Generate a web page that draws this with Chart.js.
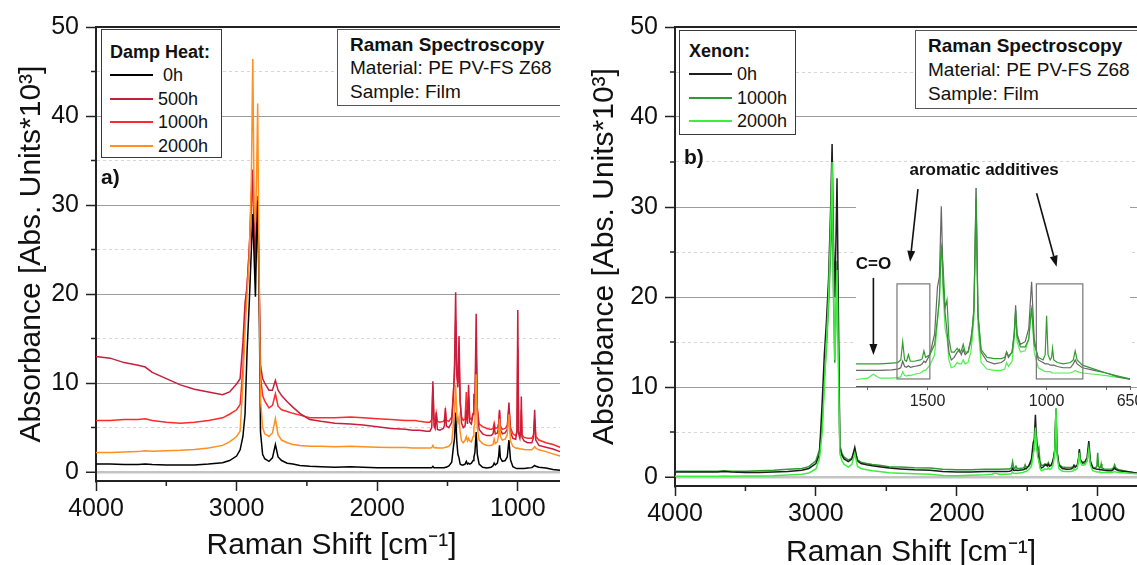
<!DOCTYPE html>
<html>
<head>
<meta charset="utf-8">
<script src="https://cdn.jsdelivr.net/npm/chart.js@4.4.0/dist/chart.umd.min.js"></script>
<style>
  body { margin: 0; width: 1137px; height: 565px; overflow: hidden; background: #fff; position: relative;
         font-family: "Liberation Sans", Arial, sans-serif; color: #111; }
  .panel { position: absolute; top: 0; height: 565px; overflow: hidden; }
  #pa { left: 0; width: 560px; }
  #pb { left: 570px; width: 567px; }
  canvas { position: absolute; left: 0; top: 0; }
  .box { position: absolute; background: #fff; box-sizing: border-box; }
  .t { position: absolute; white-space: nowrap; line-height: 22px; transform: translateY(-50%); }
  .sample { position: absolute; width: 43px; height: 2px; margin-top: -1px; }
</style>
</head>
<body>
<div class="panel" id="pa"><canvas id="ca" width="600" height="565"></canvas></div>
<div class="panel" id="pb"><canvas id="cb" width="600" height="565"></canvas>
  <canvas id="ci" width="330" height="275" style="left:260px;top:150px"></canvas></div>
<script>
// Raman shift grid shared by every spectrum (cm^-1)
const shift = [
  4000, 3900, 3800, 3700, 3650, 3600, 3500, 3400, 3300, 3200,
  3100, 3050, 3000, 2975, 2955, 2940, 2925, 2910, 2895, 2885,
  2875, 2866, 2858, 2850, 2840, 2830, 2815, 2800, 2770, 2745,
  2724, 2705, 2680, 2640, 2600, 2550, 2480, 2400, 2300, 2190,
  2100, 2000, 1900, 1800, 1750, 1728, 1700, 1650, 1625, 1612,
  1604, 1596, 1588, 1580, 1572, 1555, 1530, 1522, 1515, 1508,
  1490, 1470, 1458, 1450, 1442, 1434, 1426, 1418, 1410, 1400,
  1388, 1375, 1366, 1358, 1350, 1342, 1330, 1318, 1312, 1305,
  1296, 1288, 1275, 1250, 1220, 1190, 1176, 1168, 1160, 1145,
  1136, 1130, 1124, 1110, 1090, 1075, 1063, 1052, 1035, 1015,
  1006, 1000, 994, 985, 979, 975, 970, 955, 930, 900,
  888, 880, 872, 850, 800, 750, 700, 650
];

// a) damp heat
const dh0h = [
  0.9, 0.9, 0.85, 0.85, 0.9, 0.85, 0.8, 0.8, 0.8, 0.9,
  1.05, 1.3, 1.8, 2.5, 4.0, 6.5, 13.8, 19, 25, 29,
  24, 19.7, 26, 30.5, 20, 4.5, 2.0, 1.5, 1.2, 1.6,
  3.1, 1.7, 1.3, 1.0, 0.9, 0.75, 0.65, 0.6, 0.55, 0.6,
  0.55, 0.5, 0.5, 0.5, 0.5, 0.5, 0.5, 0.5, 0.5, 0.5,
  0.65, 0.5, 0.5, 0.5, 0.5, 0.5, 0.5, 0.5, 0.55, 0.55,
  0.7, 1.1, 2.8, 3.8, 6.7, 3.5, 2.0, 1.6, 0.9, 0.8,
  0.8, 0.9, 1.2, 0.9, 1.0, 0.9, 1.0, 1.3, 1.7, 2.2,
  4.5, 2.0, 0.9, 0.55, 0.45, 0.55, 0.7, 1.0, 0.8, 1.0,
  1.8, 3.0, 1.6, 1.2, 1.3, 1.7, 3.6, 1.4, 0.6, 0.45,
  0.4, 0.4, 0.4, 0.4, 0.4, 0.4, 0.4, 0.4, 0.45, 0.5,
  0.65, 0.75, 0.65, 0.55, 0.45, 0.3, 0.2, 0.1
];
const dh500h = [
  13.0, 12.8, 12.3, 12.0, 11.8, 11.2, 10.5, 9.8, 9.3, 9.0,
  8.7, 9.0, 9.9, 10.5, 14.6, 19, 21, 25, 31, 34,
  27, 24, 29, 31, 22, 12, 10.5, 10.0, 9.2, 9.2,
  10.3, 9.2, 8.6, 7.9, 7.3, 6.6, 5.9, 5.7, 5.5, 5.4,
  5.3, 5.1, 4.9, 4.8, 4.7, 4.7, 4.7, 4.6, 4.6, 5.0,
  10.2, 5.2, 4.9, 6.7, 4.8, 4.7, 4.9, 5.2, 7.2, 5.2,
  5.0, 5.6, 8.5, 12, 20.2, 11, 9.5, 15.3, 8, 5.5,
  5.0, 5.2, 7.0, 5.4, 9.8, 5.6, 5.4, 6.5, 8.8, 7.5,
  17.8, 7.0, 4.8, 4.3, 4.1, 4.1, 4.3, 5.1, 4.3, 4.4,
  5.0, 7.0, 4.8, 4.3, 4.4, 4.8, 7.8, 4.5, 3.8, 3.7,
  4.5, 18.2, 4.3, 3.8, 4.5, 8.5, 3.9, 3.5, 3.3, 3.3,
  3.9, 7.0, 3.6, 3.0, 2.8, 2.6, 2.3, 2.1
];
const dh1000h = [
  5.8, 5.8, 5.9, 5.9, 6.0, 5.8, 5.6, 5.5, 5.6, 5.8,
  6.1, 6.5, 7.0, 7.6, 11.6, 17.6, 21, 25, 30, 33,
  26, 23, 28, 31, 21, 10.8, 8.6, 8.0, 7.2, 7.5,
  8.8, 7.4, 7.0, 6.8, 6.6, 6.4, 6.1, 6.1, 6.1, 6.2,
  6.1, 6.0, 5.9, 5.8, 5.8, 5.8, 5.7, 5.6, 5.6, 5.9,
  9.6, 6.0, 5.7, 6.6, 5.7, 5.6, 5.7, 5.9, 6.8, 5.8,
  5.7, 6.2, 9, 11, 17, 11, 10, 13, 8, 6.2,
  5.8, 6.0, 9.0, 6.0, 8.5, 6.1, 5.9, 6.6, 8.2, 7.5,
  14, 7.2, 5.4, 5.1, 4.9, 4.8, 4.9, 5.5, 4.9, 5.0,
  5.5, 6.8, 5.2, 4.8, 4.9, 5.2, 7.2, 5.0, 4.3, 4.1,
  4.6, 14, 4.6, 4.2, 4.6, 7.0, 4.2, 3.9, 3.8, 3.8,
  4.2, 6.0, 4.0, 3.6, 3.3, 3.1, 2.8, 2.6
];
const dh2000h = [
  2.2, 2.2, 2.25, 2.3, 2.4, 2.35, 2.4, 2.45, 2.55, 2.7,
  3.0, 3.4, 4.0, 4.6, 10.1, 16, 20, 24, 33, 46.4,
  30, 28, 33, 41.4, 22, 8.2, 5.0, 4.3, 4.0, 4.4,
  6.0, 4.2, 3.6, 3.3, 3.1, 3.0, 2.9, 2.9, 2.85, 2.9,
  2.85, 2.8, 2.75, 2.75, 2.7, 2.7, 2.7, 2.7, 2.7, 2.75,
  3.0, 2.75, 2.7, 2.75, 2.7, 2.7, 2.7, 2.75, 2.8, 2.8,
  2.9, 3.3, 5.5, 6.8, 9.8, 6.5, 5.5, 6.2, 4.5, 3.5,
  3.3, 3.6, 4.0, 3.5, 3.8, 3.5, 3.4, 4.0, 5.0, 5.5,
  11.0, 5.0, 3.6, 3.2, 3.0, 3.0, 3.1, 3.7, 3.2, 3.4,
  4.2, 6.0, 4.0, 3.6, 3.7, 4.2, 6.5, 3.5, 2.9, 2.7,
  2.65, 2.7, 2.65, 2.6, 2.6, 2.6, 2.6, 2.55, 2.5, 2.5,
  2.7, 2.85, 2.7, 2.5, 2.3, 2.05, 1.8, 1.6
];

// b) xenon
const xe0h = [
  0.55, 0.55, 0.55, 0.55, 0.6, 0.55, 0.5, 0.5, 0.55, 0.6,
  0.75, 0.95, 1.5, 2.5, 8.4, 13.6, 17.3, 22, 30, 37.0,
  26, 20, 26, 33.2, 18, 3.3, 2.4, 2.0, 1.7, 2.0,
  3.3, 1.8, 1.5, 1.35, 1.25, 1.15, 1.0, 0.9, 0.8, 0.75,
  0.6, 0.55, 0.55, 0.6, 0.6, 0.6, 0.6, 0.62, 0.65, 0.7,
  0.95, 0.75, 0.72, 0.78, 0.72, 0.75, 0.8, 0.85, 0.95, 0.9,
  1.2, 2.0, 3.8, 4.2, 6.9, 3.9, 2.8, 2.1, 1.3, 1.0,
  1.1, 1.3, 1.4, 1.2, 1.4, 1.2, 1.3, 1.8, 2.2, 3.0,
  7.6, 2.8, 1.3, 0.95, 0.85, 0.9, 1.0, 1.3, 1.1, 1.3,
  2.0, 3.1, 2.0, 1.6, 1.7, 2.2, 4.0, 1.8, 1.0, 0.9,
  0.85, 0.85, 0.85, 0.8, 0.8, 0.8, 0.8, 0.75, 0.7, 0.7,
  0.85, 1.0, 0.85, 0.7, 0.6, 0.5, 0.35, 0.25
];
const xe1000h = [
  0.65, 0.65, 0.65, 0.65, 0.7, 0.65, 0.65, 0.7, 0.75, 0.85,
  0.95, 1.15, 1.8, 3.0, 6.0, 11, 14.4, 19, 25, 30,
  20, 12.7, 18, 24, 14, 3.5, 2.6, 2.2, 1.9, 2.1,
  3.0, 1.9, 1.65, 1.5, 1.4, 1.3, 1.15, 1.1, 1.03, 1.0,
  0.85, 0.8, 0.8, 0.85, 0.85, 0.85, 0.85, 0.88, 0.9, 1.0,
  1.7, 1.0, 0.95, 1.2, 0.95, 0.95, 1.0, 1.05, 1.35, 1.1,
  1.2, 1.6, 2.6, 3.4, 5.4, 4.5, 3.0, 3.3, 1.8, 1.3,
  1.3, 1.45, 1.3, 1.35, 1.6, 1.3, 1.3, 1.7, 2.2, 2.9,
  7.2, 2.7, 1.4, 1.1, 1.05, 1.05, 1.1, 1.3, 1.15, 1.3,
  2.0, 2.9, 1.9, 1.5, 1.5, 1.8, 3.0, 1.6, 1.1, 1.0,
  1.2, 2.7, 1.2, 1.0, 1.1, 1.45, 1.0, 0.9, 0.85, 0.9,
  1.0, 1.35, 1.0, 0.8, 0.65, 0.5, 0.38, 0.27
];
const xe2000h = [
  0.08, 0.08, 0.08, 0.08, 0.12, 0.08, 0.1, 0.12, 0.15, 0.22,
  0.3, 0.45, 0.9, 2.0, 5.0, 10, 15, 20, 28, 35,
  22, 13, 17, 23, 12, 2.6, 1.8, 1.4, 1.1, 1.4,
  2.6, 1.2, 0.95, 0.8, 0.7, 0.6, 0.48, 0.42, 0.37, 0.3,
  0.18, 0.15, 0.2, 0.25, 0.3, 0.45, 0.3, 0.3, 0.32, 0.35,
  0.55, 0.4, 0.38, 0.42, 0.4, 0.45, 0.5, 0.55, 0.6, 0.6,
  0.8, 1.2, 2.5, 3.2, 5.5, 3.5, 2.2, 1.85, 1.0, 0.7,
  0.75, 0.9, 0.85, 0.85, 1.0, 0.85, 0.9, 1.3, 1.8, 2.6,
  7.6, 2.3, 0.9, 0.65, 0.6, 0.6, 0.65, 0.9, 0.75, 0.95,
  1.8, 2.7, 1.7, 1.3, 1.35, 1.8, 3.1, 1.3, 0.7, 0.6,
  0.55, 0.55, 0.55, 0.55, 0.5, 0.5, 0.5, 0.5, 0.5, 0.5,
  0.55, 0.6, 0.55, 0.5, 0.45, 0.4, 0.33, 0.27
];

const dampLabels = ['\u00a00h', '500h', '1000h', '2000h'];
const dampColors = ['#000000', '#c81e3c', '#ff2a2a', '#ff8f1f'];
const xenonLabels = ['0h', '1000h', '2000h'];
const xenonColors = ['#1e1e1e', '#2e9c2e', '#3def3d'];
const insetColors = ['#666666', '#2e9c2e', '#4df04d'];

// axis ticks
const yTicks = [0, 5, 10, 15, 20, 25, 30, 35, 40, 45, 50];
const xMajor = [4000, 3000, 2000, 1000];
const xMinor = [3500, 2500, 1500];
const insetTicks = [1750, 1500, 1250, 1000, 750, 650];
const insetLabels = [1500, 1000, 650];

// inset notes, in inset data units
const insetBoxes = [[1628, 1490, 0.27, 3.92], [1043, 848, 0.27, 3.92]];
const insetArrows = [[1540, 7.56, 1573, 4.77], [1042, 7.4, 958, 4.58], [1727, 4.15, 1727, 1.19]];
const insetNotes = [['aromatic additives', 1262, 8.29], ['C=O', 1727, 4.68]];

Chart.defaults.font.family = '"Liberation Sans", Arial, sans-serif';
Chart.defaults.color = '#111';

function pts(ys) {
  return shift.map((x, i) => ({x: x, y: ys[i]}));
}

// top frame line + short minor ticks
const frame = {
  id: 'frame',
  afterDraw(chart) {
    const {ctx, chartArea: a, scales} = chart;
    ctx.save();
    ctx.strokeStyle = '#222';
    ctx.lineWidth = 2;
    ctx.beginPath();
    ctx.moveTo(a.left, a.top);
    ctx.lineTo(a.right, a.top);
    ctx.stroke();
    ctx.lineWidth = 1.5;
    ctx.beginPath();
    xMinor.forEach(v => {
      const px = scales.x.getPixelForValue(v);
      ctx.moveTo(px, a.bottom);
      ctx.lineTo(px, a.bottom + 5);
    });
    yTicks.filter(v => v % 10 !== 0).forEach(v => {
      const py = scales.y.getPixelForValue(v);
      ctx.moveTo(a.left - 5, py);
      ctx.lineTo(a.left, py);
    });
    ctx.stroke();
    ctx.restore();
  }
};

function mainOptions(o) {
  return {
    responsive: false,
    animation: false,
    devicePixelRatio: 1,
    layout: {padding: {left: 0, top: 27, right: o.padRight, bottom: 0}},
    plugins: {legend: {display: false}, tooltip: {enabled: false}},
    elements: {point: {radius: 0}, line: {borderWidth: 1.5, tension: 0}},
    scales: {
      x: {
        type: 'linear', reverse: true, min: 650, max: 4000,
        afterBuildTicks: s => { s.ticks = xMajor.map(v => ({value: v})); },
        afterFit: s => { s.height = o.xHeight; },
        ticks: {font: {size: 25}, color: '#111', padding: 3, maxRotation: 0, autoSkip: false,
                callback: v => String(v)},
        grid: {drawOnChartArea: false, tickLength: 10, tickColor: '#222', tickWidth: 1.5},
        border: {color: '#222', width: 2},
        title: {display: true, text: 'Raman Shift [cm\u207b\u00b9]', font: {size: 30}, color: '#111',
                padding: {top: 0, bottom: o.xTitlePad}}
      },
      y: {
        type: 'linear', min: -1, max: 50,
        afterBuildTicks: s => { s.ticks = yTicks.map(v => ({value: v})); },
        afterFit: s => { s.width = o.yWidth; },
        ticks: {font: {size: 25}, color: '#111', padding: 7,
                callback: v => (v % 10 === 0 ? String(v) : '')},
        grid: {
          tickLength: 10, tickWidth: 1.5,
          tickColor: c => (c.tick && c.tick.value % 10 === 0 ? '#222' : 'rgba(0,0,0,0)'),
          color: c => {
            if (!c.tick) return '#999';
            if (c.tick.value === 0) return '#c4c4c4';
            return c.tick.value % 10 === 0 ? '#9c9c9c' : '#d6d6d6';
          },
          lineWidth: c => (c.tick && c.tick.value === 0 ? 2.5 : 1)
        },
        border: {color: '#222', width: 2,
                 dash: c => (c.tick && c.tick.value % 10 !== 0 ? [3, 3] : [])},
        title: {display: true, text: 'Absorbance [Abs. Units*10\u00b3]', font: {size: 30}, color: '#111',
                padding: {top: o.yTitlePad, bottom: 0}}
      }
    }
  };
}

new Chart(document.getElementById('ca'), {
  type: 'line',
  data: {
    datasets: [
      {label: dampLabels[0], data: pts(dh0h), borderColor: dampColors[0], order: 1},
      {label: dampLabels[1], data: pts(dh500h), borderColor: dampColors[1], order: 2},
      {label: dampLabels[2], data: pts(dh1000h), borderColor: dampColors[2], order: 3},
      {label: dampLabels[3], data: pts(dh2000h), borderColor: dampColors[3], order: 0}
    ]
  },
  options: mainOptions({padRight: 33, xHeight: 84, yWidth: 96, yTitlePad: 14, xTitlePad: 1}),
  plugins: [frame]
});

new Chart(document.getElementById('cb'), {
  type: 'line',
  data: {
    datasets: [
      {label: xenonLabels[0], data: pts(xe0h), borderColor: xenonColors[0], order: 1},
      {label: xenonLabels[1], data: pts(xe1000h), borderColor: xenonColors[1], order: 2},
      {label: xenonLabels[2], data: pts(xe2000h), borderColor: xenonColors[2], order: 0}
    ]
  },
  options: mainOptions({padRight: 23, xHeight: 79, yWidth: 105, yTitlePad: 17, xTitlePad: -6}),
  plugins: [frame]
});

// inset: white panel, boxes, arrows and notes
function arrow(ctx, x1, y1, x2, y2) {
  const ang = Math.atan2(y2 - y1, x2 - x1);
  const hl = 11, hw = 4;
  ctx.beginPath();
  ctx.moveTo(x1, y1);
  ctx.lineTo(x2 - hl * Math.cos(ang), y2 - hl * Math.sin(ang));
  ctx.stroke();
  ctx.beginPath();
  ctx.moveTo(x2, y2);
  ctx.lineTo(x2 - hl * Math.cos(ang) + hw * Math.sin(ang), y2 - hl * Math.sin(ang) - hw * Math.cos(ang));
  ctx.lineTo(x2 - hl * Math.cos(ang) - hw * Math.sin(ang), y2 - hl * Math.sin(ang) + hw * Math.cos(ang));
  ctx.closePath();
  ctx.fill();
}

const insetDecor = {
  id: 'insetDecor',
  beforeDraw(chart) {
    const {ctx, chartArea: a} = chart;
    ctx.save();
    ctx.fillStyle = '#fff';
    ctx.fillRect(a.left, a.top, a.right - a.left, a.bottom - a.top);
    ctx.restore();
  },
  afterDraw(chart) {
    const {ctx, scales: {x, y}} = chart;
    ctx.save();
    ctx.strokeStyle = '#777';
    ctx.lineWidth = 1.2;
    insetBoxes.forEach(b => {
      const x1 = x.getPixelForValue(b[0]), x2 = x.getPixelForValue(b[1]);
      const y1 = y.getPixelForValue(b[3]), y2 = y.getPixelForValue(b[2]);
      ctx.strokeRect(x1, y1, x2 - x1, y2 - y1);
    });
    ctx.strokeStyle = '#111';
    ctx.fillStyle = '#111';
    ctx.lineWidth = 1.6;
    insetArrows.forEach(r => arrow(ctx, x.getPixelForValue(r[0]), y.getPixelForValue(r[1]),
                                   x.getPixelForValue(r[2]), y.getPixelForValue(r[3])));
    ctx.font = 'bold 17px "Liberation Sans", Arial, sans-serif';
    ctx.textAlign = 'center';
    ctx.textBaseline = 'middle';
    insetNotes.forEach(n => ctx.fillText(n[0], x.getPixelForValue(n[1]), y.getPixelForValue(n[2])));
    ctx.restore();
  }
};

new Chart(document.getElementById('ci'), {
  type: 'line',
  data: {
    datasets: [
      {data: pts(xe0h), borderColor: insetColors[0], order: 1},
      {data: pts(xe1000h), borderColor: insetColors[1], order: 0},
      {data: pts(xe2000h), borderColor: insetColors[2], order: 2}
    ]
  },
  options: {
    responsive: false,
    animation: false,
    devicePixelRatio: 1,
    layout: {padding: {left: 26, top: 25, right: 30, bottom: 0}},
    plugins: {legend: {display: false}, tooltip: {enabled: false}},
    elements: {point: {radius: 0}, line: {borderWidth: 1.2, tension: 0}},
    scales: {
      x: {
        type: 'linear', reverse: true, min: 650, max: 1800,
        afterBuildTicks: s => { s.ticks = insetTicks.map(v => ({value: v})); },
        afterFit: s => { s.height = 39; },
        ticks: {font: {size: 16}, color: '#222', padding: 2, maxRotation: 0, autoSkip: false,
                callback: v => (insetLabels.includes(v) ? String(v) : '')},
        grid: {drawOnChartArea: false, tickLength: 4, tickColor: '#666', tickWidth: 1},
        border: {color: '#555', width: 1}
      },
      y: {type: 'linear', min: 0, max: 8.1, display: false}
    }
  },
  plugins: [insetDecor]
});

// legends and info boxes (html text over the canvases)
function el(parent, cls, style, text) {
  const d = document.createElement('div');
  d.className = cls;
  Object.assign(d.style, style);
  if (text !== undefined) d.textContent = text;
  parent.appendChild(d);
  return d;
}

function legend(parent, p) {
  el(parent, 'box', {left: p.x + 'px', top: p.y + 'px', width: p.w + 'px', height: p.h + 'px',
                     border: '1.5px solid #3a3a3a'});
  el(parent, 't', {left: p.sx + 'px', top: p.titleY + 'px', fontSize: '18px', fontWeight: 'bold'}, p.title);
  p.labels.forEach((lab, i) => {
    const cy = p.rowY + i * p.step;
    el(parent, 'sample', {left: p.sx + 'px', top: cy + 'px', background: p.colors[i]});
    el(parent, 't', {left: p.tx + 'px', top: cy + 'px', fontSize: '18px'}, lab);
  });
}

function info(parent, p) {
  el(parent, 'box', {left: p.x + 'px', top: p.y + 'px', width: '260px', height: p.h + 'px',
                     border: '1.5px solid #555'});
  ['Raman Spectroscopy', 'Material: PE PV-FS Z68', 'Sample: Film'].forEach((s, i) => {
    el(parent, 't', {left: p.tx + 'px', top: (p.rowY + i * 23.6) + 'px', fontSize: '19px',
                     fontWeight: i === 0 ? 'bold' : 'normal'}, s);
  });
}

const pa = document.getElementById('pa');
const pb = document.getElementById('pb');
legend(pa, {x: 101, y: 29, w: 121, h: 129, sx: 110, tx: 158, titleY: 52, rowY: 75, step: 23.5,
            title: 'Damp Heat:', labels: dampLabels, colors: dampColors});
legend(pb, {x: 109, y: 30, w: 117, h: 105, sx: 119, tx: 167, titleY: 51, rowY: 74, step: 23.5,
            title: 'Xenon:', labels: xenonLabels, colors: xenonColors});
info(pa, {x: 337, y: 29, h: 77, tx: 350, rowY: 44.6});
info(pb, {x: 345, y: 30, h: 79, tx: 358, rowY: 46.3});
el(pa, 't', {left: '101px', top: '177px', fontSize: '21px', fontWeight: 'bold'}, 'a)');
el(pb, 't', {left: '114px', top: '157px', fontSize: '21px', fontWeight: 'bold'}, 'b)');
</script>
</body>
</html>
